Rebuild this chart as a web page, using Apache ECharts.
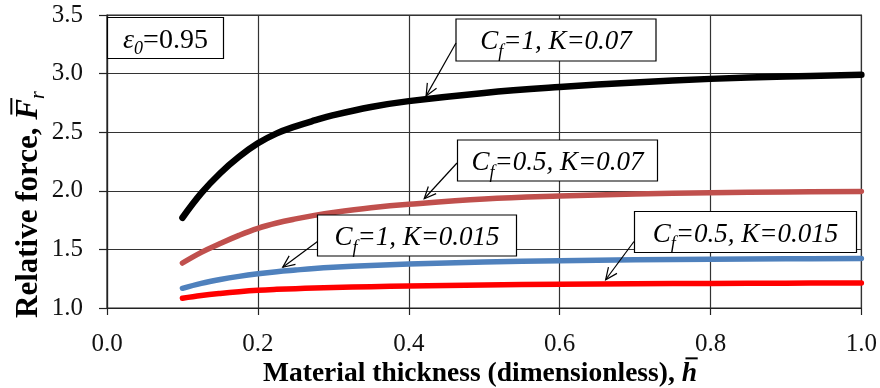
<!DOCTYPE html>
<html>
<head>
<meta charset="utf-8">
<script src="https://cdn.jsdelivr.net/npm/echarts@6/dist/echarts.min.js"></script>
<style>
  html, body { margin: 0; padding: 0; background: #fff; }
  #chart { width: 880px; height: 388px; }
</style>
</head>
<body>
<div id="chart"></div>
<script>
// Dimensionless material thickness (x) and relative force curves
const thickness = [0.1, 0.125, 0.15, 0.175, 0.2, 0.225, 0.25, 0.275, 0.3, 0.35, 0.4, 0.5, 0.6, 0.7, 0.8, 0.9, 1.0];
const forceCf1K007   = [1.77, 1.98, 2.15, 2.29, 2.405, 2.49, 2.55, 2.60, 2.645, 2.715, 2.765, 2.835, 2.885, 2.925, 2.955, 2.975, 2.99];
const forceCf05K007  = [1.384, 1.475, 1.55, 1.62, 1.68, 1.725, 1.76, 1.79, 1.815, 1.855, 1.885, 1.93, 1.955, 1.972, 1.983, 1.99, 1.995];
const forceCf1K0015  = [1.168, 1.21, 1.243, 1.27, 1.292, 1.31, 1.324, 1.337, 1.347, 1.363, 1.375, 1.392, 1.403, 1.411, 1.417, 1.42, 1.422];
const forceCf05K0015 = [1.083, 1.106, 1.124, 1.139, 1.151, 1.159, 1.165, 1.17, 1.175, 1.182, 1.188, 1.197, 1.203, 1.207, 1.21, 1.212, 1.213];

const xTickLabels = ['0.0', '0.2', '0.4', '0.6', '0.8', '1.0'];
const yTickLabels = ['1.0', '1.5', '2.0', '2.5', '3.0', '3.5'];

// Annotation callouts: the point each arrow points at (data units)
const calloutTips = [[0.423, 2.81], [0.4205, 1.932], [0.233, 1.348], [0.661, 1.241]];

const SERIF = "'Liberation Serif', 'Times New Roman', serif";
const pairs = ys => thickness.map((x, i) => [x, ys[i]]);

const chart = echarts.init(document.getElementById('chart'));

const lineSeries = (name, ys, color, width) => ({
  name, type: 'line', data: pairs(ys), smooth: 0.4, showSymbol: false,
  lineStyle: { color, width, cap: 'round', join: 'round' }, z: 3
});

chart.setOption({
  animation: false,
  backgroundColor: '#fff',
  grid: { left: 107, right: 18, top: 15, bottom: 80, show: true, borderColor: '#222', borderWidth: 1.2, backgroundColor: 'transparent' },
  xAxis: {
    type: 'value', min: 0, max: 1, interval: 0.2,
    axisLine: { show: true, lineStyle: { color: '#222', width: 1.2 } },
    axisTick: { show: true, inside: false, length: 7, lineStyle: { color: '#222', width: 1.2 } },
    axisLabel: { margin: 24, fontFamily: SERIF, fontSize: 25, color: '#111',
      formatter: v => xTickLabels[Math.round(v / 0.2)] },
    splitLine: { show: true, lineStyle: { color: '#333', width: 1.2 } }
  },
  yAxis: {
    type: 'value', min: 1, max: 3.5, interval: 0.5,
    axisLine: { show: true, lineStyle: { color: '#222', width: 1.2 } },
    axisTick: { show: true, inside: false, length: 8, lineStyle: { color: '#222', width: 1.2 } },
    axisLabel: { margin: 24, fontFamily: SERIF, fontSize: 25, color: '#111',
      formatter: v => yTickLabels[Math.round((v - 1) / 0.5)] },
    splitLine: { show: true, lineStyle: { color: '#333', width: 1.2 } }
  },
  series: [
    lineSeries('Cf=1, K=0.07', forceCf1K007, '#000000', 6.5),
    lineSeries('Cf=0.5, K=0.07', forceCf05K007, '#C0504D', 5.5),
    lineSeries('Cf=1, K=0.015', forceCf1K0015, '#4F81BD', 5.5),
    lineSeries('Cf=0.5, K=0.015', forceCf05K0015, '#FF0000', 5.5)
  ]
});

// ---- text runs with subscripts / overbars ----
const mctx = document.createElement('canvas').getContext('2d');
function fontOf(s) {
  return (s.italic ? 'italic ' : '') + (s.bold ? 'bold ' : '') + s.size + 'px ' + SERIF;
}
// Builds children laid out along a baseline at y = 0
function textRun(segs, align, z) {
  let w = 0;
  const parts = segs.map(s => {
    const font = fontOf(s);
    mctx.font = font;
    const adv = mctx.measureText(s.text).width;
    const p = { s, font, x: w, adv };
    w += adv + (s.kern || 0);
    return p;
  });
  const x0 = align === 'center' ? -w / 2 : 0;
  const children = [];
  parts.forEach(p => {
    children.push({
      type: 'text', silent: true, z,
      x: x0 + p.x, y: (p.s.shift || 0) - 0.305 * p.s.size,
      style: { text: p.s.text, font: p.font, fill: '#000', textAlign: 'left', textVerticalAlign: 'middle', verticalAlign: 'middle' }
    });
    if (p.s.bar) {
      const by = -p.s.size * 0.86;
      children.push({
        type: 'line', silent: true, z,
        shape: { x1: x0 + p.x + p.adv * 0.25, y1: by, x2: x0 + p.x + p.adv * 1.05, y2: by },
        style: { stroke: '#000', lineWidth: 2 }
      });
    }
  });
  return { children, width: w };
}

function callout(box, segs) {
  const run = textRun(segs, 'center', 11);
  return [
    { type: 'rect', silent: true, z: 10,
      shape: { x: box.x, y: box.y, width: box.w, height: box.h },
      style: { fill: '#fff', stroke: '#000', lineWidth: 1.2 } },
    { type: 'group', silent: true, z: 11, x: box.x + box.w / 2, y: box.y + 31.5, children: run.children }
  ];
}

function arrow(from, tipData) {
  const tip = chart.convertToPixel({ gridIndex: 0 }, tipData);
  const ang = Math.atan2(from[1] - tip[1], from[0] - tip[0]);
  const L = 13, spread = 0.42;
  const w1 = [tip[0] + L * Math.cos(ang + spread), tip[1] + L * Math.sin(ang + spread)];
  const w2 = [tip[0] + L * Math.cos(ang - spread), tip[1] + L * Math.sin(ang - spread)];
  const st = { stroke: '#000', lineWidth: 1.2, fill: null };
  return [
    { type: 'line', silent: true, z: 12, shape: { x1: from[0], y1: from[1], x2: tip[0], y2: tip[1] }, style: st },
    { type: 'polyline', silent: true, z: 12, shape: { points: [w1, tip, w2] }, style: st }
  ];
}

const it = (text, size, extra) => Object.assign({ text, size, italic: true }, extra || {});
const big = 27, sub = 18;

const graphics = [];
// ε0 box
graphics.push(...callout({ x: 107.5, y: 17.5, w: 116, h: 41 }, [
  it('\u03b5', 28), it('0', 18, { shift: 6 }), { text: '=0.95', size: 28 }
]));
graphics.push(...callout({ x: 456, y: 19, w: 200, h: 42 }, [
  it('C', big), it('f', sub, { shift: 7 }), it('=1, K=0.07', big)
]));
graphics.push(...callout({ x: 457.5, y: 140, w: 200, h: 41 }, [
  it('C', big), it('f', sub, { shift: 7 }), it('=0.5, K=0.07', big)
]));
graphics.push(...callout({ x: 317.5, y: 215, w: 199, h: 41 }, [
  it('C', big), it('f', sub, { shift: 7 }), it('=1, K=0.015', big)
]));
graphics.push(...callout({ x: 634.5, y: 211.5, w: 222, h: 41 }, [
  it('C', big), it('f', sub, { shift: 7 }), it('=0.5, K=0.015', big)
]));
graphics.push(...arrow([456, 43], calloutTips[0]));
graphics.push(...arrow([457, 163], calloutTips[1]));
graphics.push(...arrow([317.5, 241.5], calloutTips[2]));
graphics.push(...arrow([634, 241.5], calloutTips[3]));

// Axis titles
const xTitle = textRun([
  { text: 'Material thickness (dimensionless), ', size: 27.5, bold: true },
  { text: 'h', size: 27.5, bold: true, italic: true, bar: true }
], 'center', 5);
graphics.push({ type: 'group', silent: true, x: 480, y: 382, children: xTitle.children });

const yTitle = textRun([
  { text: 'Relative force, ', size: 31, bold: true },
  { text: 'F', size: 31, bold: true, italic: true, bar: true },
  { text: 'r', size: 20, italic: true, shift: 7 }
], 'left', 5);
graphics.push({ type: 'group', silent: true, x: 38, y: 318, rotation: Math.PI / 2, children: yTitle.children });

chart.setOption({ graphic: graphics });
</script>
</body>
</html>
